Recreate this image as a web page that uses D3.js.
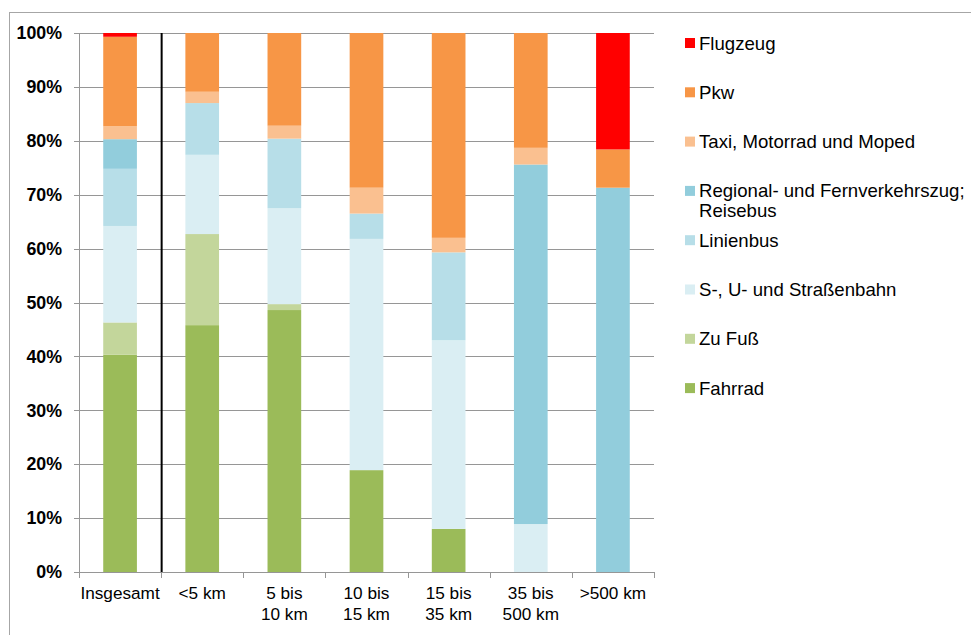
<!DOCTYPE html>
<html><head><meta charset="utf-8">
<script src="https://cdn.jsdelivr.net/npm/d3@7"></script>
<style>
html,body{margin:0;padding:0;background:#fff;}
svg{display:block;font-family:"Liberation Sans",Arial,sans-serif;}
</style></head>
<body><svg id="c" width="971" height="635"></svg>
<script>
const categories = [["Insgesamt"],["<5 km"],["5 bis","10 km"],["10 bis","15 km"],["15 bis","35 km"],["35 bis","500 km"],[">500 km"]];
const seriesNames = ["Fahrrad","Zu Fuß","S-, U- und Straßenbahn","Linienbus","Regional- und Fernverkehrszug; Reisebus","Taxi, Motorrad und Moped","Pkw","Flugzeug"];
const seriesColors = ["#9BBB59","#C3D69B","#DAEEF3","#B7DEE8","#92CDDC","#FAC090","#F79646","#FF0000"];
const fahrrad   = [40.3, 45.8, 48.6, 18.9,  8.0,  0.0,  0.0];
const zuFuss    = [ 6.0, 16.9,  1.1,  0.0,  0.0,  0.0,  0.0];
const sUBahn    = [17.9, 14.7, 17.8, 42.9, 35.0,  8.9,  0.0];
const linienbus = [10.6,  9.6, 12.9,  4.7, 16.3,  0.0,  0.0];
const regional  = [ 5.5,  0.0,  0.0,  0.0,  0.0, 66.7, 71.3];
const taxi      = [ 2.4,  2.1,  2.4,  4.8,  2.7,  3.1,  0.0];
const pkw       = [16.6, 10.9, 17.2, 28.7, 38.0, 21.3,  7.1];
const flugzeug  = [ 0.7,  0.0,  0.0,  0.0,  0.0,  0.0, 21.6];
const yTicks = [0,10,20,30,40,50,60,70,80,90,100];

(function(){
const series = [fahrrad, zuFuss, sUBahn, linienbus, regional, taxi, pkw, flugzeug];
const rows = categories.map((c,i)=>{ const o={cat:i}; series.forEach((s,j)=>o["s"+j]=s[i]); return o; });
const keys = series.map((s,j)=>"s"+j);
const stacked = d3.stack().keys(keys)(rows);

const svg = d3.select("#c");
svg.append("rect").attr("x",9.5).attr("y",12.5).attr("width",990).attr("height",700)
  .attr("fill","none").attr("stroke","#a6a6a6").attr("stroke-width",1);

const pl=79, pr=654, pt=33, pb=572;
const x = d3.scaleBand().domain(d3.range(categories.length)).range([pl,pr]).paddingInner(0.59).paddingOuter(0.295);
const y = d3.scaleLinear().domain([0,100]).range([pb,pt]);

svg.append("g").selectAll("line").data(yTicks).join("line")
  .attr("x1",pl-5).attr("x2",pr).attr("y1",d=>Math.round(y(d))+0.5).attr("y2",d=>Math.round(y(d))+0.5)
  .attr("stroke","#969696").attr("stroke-width",1);

svg.append("g").selectAll("g").data(stacked).join("g")
  .attr("fill",(d,i)=>seriesColors[i])
  .selectAll("rect").data(d=>d).join("rect")
  .attr("x",d=>x(d.data.cat)).attr("width",x.bandwidth())
  .attr("y",d=>y(Math.min(100,d[1]))).attr("height",d=>Math.max(0,y(d[0])-y(Math.min(100,d[1]))));

svg.append("line").attr("x1",pl+0.5).attr("x2",pl+0.5).attr("y1",pt).attr("y2",pb+1)
  .attr("stroke","#969696");
const step = (pr-pl)/categories.length;
svg.append("line").attr("x1",pl).attr("x2",pr).attr("y1",Math.round(y(0))+0.5).attr("y2",Math.round(y(0))+0.5).attr("stroke","#969696");
svg.append("g").selectAll("line").data(d3.range(categories.length+1)).join("line")
  .attr("x1",i=>Math.round(pl+i*step)+0.5).attr("x2",i=>Math.round(pl+i*step)+0.5)
  .attr("y1",pb).attr("y2",pb+6).attr("stroke","#969696");
svg.append("line").attr("x1",pl+step+0.5).attr("x2",pl+step+0.5).attr("y1",y(100)).attr("y2",y(0))
  .attr("stroke","#000").attr("stroke-width",2);

svg.append("g").selectAll("text").data(yTicks).join("text")
  .attr("x",62).attr("y",d=>y(d)).attr("dy","0.35em").attr("text-anchor","end")
  .attr("font-size",17.8).attr("font-weight","bold").attr("fill","#000").text(d=>d+"%");

const xl = svg.append("g").selectAll("text").data(categories).join("text")
  .attr("x",(d,i)=>x(i)+x.bandwidth()/2).attr("y",599).attr("text-anchor","middle")
  .attr("font-size",17.2).attr("fill","#000");
xl.selectAll("tspan").data(d=>d).join("tspan")
  .attr("x",function(){return this.parentNode.getAttribute("x");})
  .attr("dy",(d,i)=>i===0?0:21).text(d=>d);

const legendOrder = d3.range(seriesNames.length).reverse();
const lg = svg.append("g").selectAll("g").data(legendOrder).join("g")
  .attr("transform",(d,i)=>`translate(685,${43+i*49.3})`);
lg.append("rect").attr("x",0).attr("y",-5).attr("width",10).attr("height",10).attr("fill",d=>seriesColors[d]);
lg.each(function(d){
  const g=d3.select(this);
  const name=seriesNames[d];
  const idx=name.indexOf("; ");
  const parts = idx>=0 ? [name.slice(0,idx+1), name.slice(idx+2)] : [name];
  const t=g.append("text").attr("x",14).attr("y",0).attr("font-size",18.6).attr("fill","#000");
  parts.forEach((p,k)=>t.append("tspan").attr("x",14).attr("dy",k===0?"0.35em":20).text(p));
});
})();
</script></body></html>
